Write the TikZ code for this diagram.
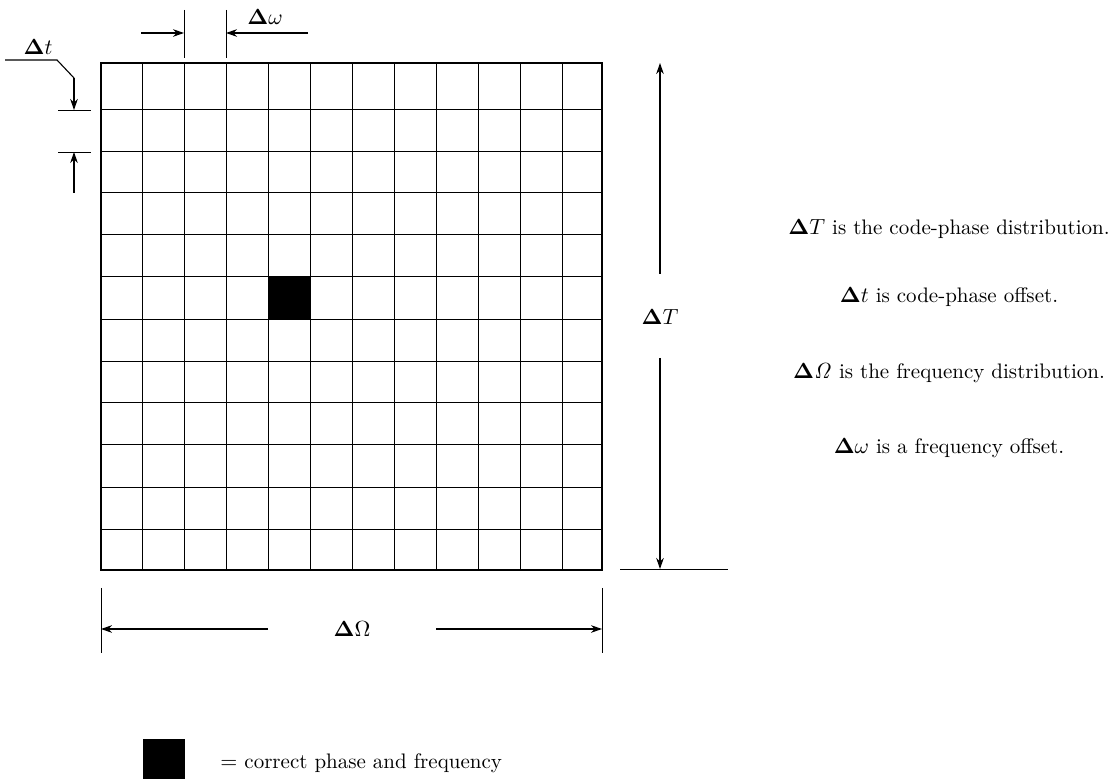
\documentclass[tikz,border=0pt]{standalone}
\usepackage{amsmath}
\usetikzlibrary{arrows.meta}
\begin{document}
\begin{tikzpicture}[x=0.5pt,y=-0.5pt,
  dimarrow/.style={line width=0.6pt,-{Stealth[length=5.5pt,width=3.8pt]}},
  extline/.style={line width=0.4pt},
  gridline/.style={line width=0.5pt},
  border/.style={line width=0.85pt},
  lbl/.style={inner sep=1pt,font=\fontsize{10.5}{12.6}\selectfont},
  note/.style={inner sep=1pt,font=\fontsize{10.5}{12.6}\selectfont}]
\useasboundingbox (0,0) rectangle (1119,779);
% grid lines
\foreach \gx in {142,184,226,268,310,352,394,436,478,520,562}
  \draw[gridline] (\gx,63) -- (\gx,570);
\foreach \gy in {110,152,193,235,277,320,362,403,445,488,530}
  \draw[gridline] (101,\gy) -- (602,\gy);
% correct cell
\fill[black] (268,277) rectangle (310,320);
% outer border
\draw[border] (101,63) rectangle (602,570);
% Delta omega
\coordinate (w1a) at (184,10); \coordinate (w1b) at (184,58);
\coordinate (w2a) at (226,10); \coordinate (w2b) at (226,58);
\draw[extline] (w1a) -- (w1b);
\draw[extline] (w2a) -- (w2b);
\coordinate (w1t) at (184,33); \coordinate (w2t) at (226,33);
\coordinate (w1s) at (141,33); \coordinate (w2s) at (308,33);
\draw[dimarrow] (w1s) -- (w1t);
\draw[dimarrow] (w2s) -- (w2t);
\node[lbl] (lw) at (265,17) {$\mathbf{\Delta}\omega$};
% Delta t
\node[lbl] (lt) at (38,47) {$\mathbf{\Delta}t$};
\coordinate (t0) at (5,60); \coordinate (t1) at (57,60); \coordinate (t2) at (74,78);
\coordinate (t3) at (74,110); \coordinate (t4) at (74,193); \coordinate (t5) at (74,152);
\draw[extline] (58,110) -- (91,110);
\draw[extline] (58,152) -- (91,152);
\draw[line width=0.55pt] (t0) -- (t1) -- (t2);
\draw[dimarrow] (t2) -- (t3);
\draw[dimarrow] (t4) -- (t5);
% Delta T
\node[lbl] (lT) at (660,317) {$\mathbf{\Delta}T$};
\coordinate (T1) at (660,274); \coordinate (T2) at (660,63);
\coordinate (T3) at (660,358); \coordinate (T4) at (660,569);
\draw[dimarrow] (T1) -- (T2);
\draw[dimarrow] (T3) -- (T4);
\draw[extline] (620,569) -- (728,569);
% Delta Omega
\draw[extline] (101,588) -- (101,653);
\draw[extline] (602,588) -- (602,653);
\node[lbl] (lO) at (352,629) {$\mathbf{\Delta}\Omega$};
\coordinate (O1) at (268,629); \coordinate (O2) at (101,629);
\coordinate (O3) at (436,629); \coordinate (O4) at (602,629);
\draw[dimarrow] (O1) -- (O2);
\draw[dimarrow] (O3) -- (O4);
% notes
\node[note] (n1) at (949,229) {$\mathbf{\Delta}T$ is the code-phase distribution.};
\node[note] (n2) at (949,297) {$\mathbf{\Delta}t$ is code-phase offset.};
\node[note] (n3) at (949,373) {$\mathbf{\Delta}\mathit{\Omega}$ is the frequency distribution.};
\node[note] (n4) at (949,448) {$\mathbf{\Delta}\omega$ is a frequency offset.};
% legend
\fill[black] (143,739) rectangle (185,782);
\node[note,anchor=west] (leg) at (218,763) {$=$ correct phase and frequency};
\end{tikzpicture}
\end{document}
